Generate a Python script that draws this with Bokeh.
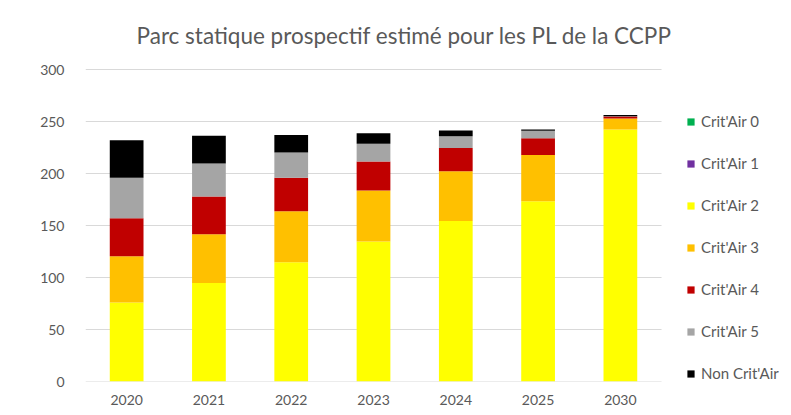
from bokeh.plotting import figure
from bokeh.models import Legend, LegendItem, Label, FixedTicker, Range1d
from bokeh.embed import file_html
from bokeh.resources import INLINE

years = ["2020", "2021", "2022", "2023", "2024", "2025", "2030"]
crit0 = [0, 0, 0, 0, 0, 0, 0]
crit1 = [0, 0, 0, 0, 0, 0, 0]
crit2 = [76, 94.6, 114.7, 134.6, 154.4, 173.4, 242.3]
crit3 = [44.5, 47, 49.1, 49.1, 47.8, 44.5, 10.6]
crit4 = [36.5, 36.3, 32.1, 27.8, 22.2, 16.1, 1.9]
crit5 = [39, 31.7, 24.3, 17, 11.5, 7, 0.3]
noncrit = [36, 26.6, 16.7, 10.3, 5.4, 1.2, 1.2]

series = ["Crit'Air 0", "Crit'Air 1", "Crit'Air 2", "Crit'Air 3", "Crit'Air 4", "Crit'Air 5", "Non Crit'Air"]
colors = ["#00b050", "#7030a0", "#ffff00", "#ffc000", "#c00000", "#a5a5a5", "#000000"]
y_ticks = [0, 50, 100, 150, 200, 250, 300]
title_text = "Parc statique prospectif estimé pour les PL de la CCPP"

FONT = "Lato"
GREY = "#595959"
GRID = "#d9d9d9"

xs = list(range(len(years)))
data = {"x": xs}
keys = ["c0", "c1", "c2", "c3", "c4", "c5", "nc"]
for k, arr in zip(keys, [crit0, crit1, crit2, crit3, crit4, crit5, noncrit]):
    data[k] = arr

# frame: left 85, right 785, top 6, bottom 381 (canvas px)
x_end = len(years) - 0.5 + (785 - 661) / 82.3
y_end = 300 + (69 - 6) / 1.04
p = figure(x_range=Range1d(-0.5, x_end), y_range=Range1d(0, y_end), width=791, height=415,
           output_backend="svg", toolbar_location=None,
           min_border_left=85, min_border_right=6, min_border_top=6, min_border_bottom=34)

p.outline_line_color = None
p.background_fill_color = "white"
p.border_fill_color = "white"
p.xgrid.grid_line_color = None
p.ygrid.grid_line_color = None

# gridlines limited to the category span
n = len(years)
p.segment(x0=[-0.5] * len(y_ticks), x1=[n - 0.5] * len(y_ticks), y0=y_ticks, y1=y_ticks,
          line_color=GRID, line_width=1)

renderers = p.vbar_stack(keys, x="x", width=0.41, color=colors, source=data, line_color=None)

p.yaxis.ticker = FixedTicker(ticks=y_ticks)
p.yaxis.axis_line_color = None
p.yaxis.major_tick_line_color = None
p.yaxis.minor_tick_line_color = None
p.yaxis.major_label_standoff = 15

p.xaxis.ticker = FixedTicker(ticks=xs)
p.xaxis.major_label_overrides = {i: y for i, y in zip(xs, years)}
p.xaxis.axis_line_color = None
p.xaxis.major_tick_line_color = None
p.xaxis.minor_tick_line_color = None
p.xaxis.major_label_standoff = 7
for ax in (p.xaxis, p.yaxis):
    ax.major_label_text_font = FONT
    ax.major_label_text_font_size = "14px"
    ax.major_label_text_color = GREY

items = [LegendItem(label=s, renderers=[r]) for s, r in zip(series, renderers)]
legend = Legend(items=items, location=(601, -1), orientation="vertical",
                glyph_width=9, glyph_height=9, label_height=14, spacing=24,
                label_standoff=6, padding=0, margin=0,
                label_text_font=FONT, label_text_font_size="15px", label_text_color=GREY,
                border_line_color=None, background_fill_alpha=0)
p.add_layout(legend)

title = Label(x=404 - 85, y=381 - 35, x_units="screen", y_units="screen", text=title_text,
              text_font=FONT, text_font_size="22.5px", text_color=GREY,
              text_align="center", text_baseline="middle")
p.add_layout(title)

open("out.html", "w").write(file_html(p, INLINE))
